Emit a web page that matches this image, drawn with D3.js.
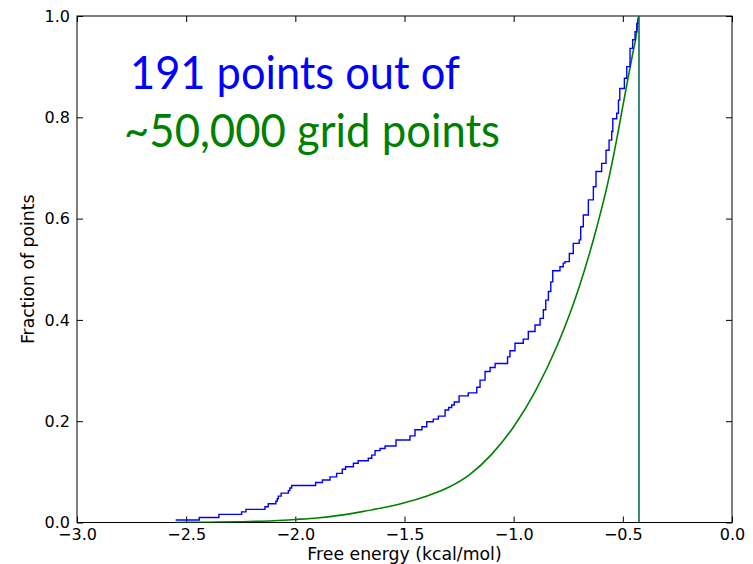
<!DOCTYPE html>
<html>
<head>
<meta charset="utf-8">
<script src="https://cdn.jsdelivr.net/npm/d3@7"></script>
<style>
    body { margin: 0; background: #fff; }
    text { font-family: "DejaVu Sans", sans-serif; }
</style>
</head>
<body>
<div id="chart"></div>
<script>
// blue: step positions of the 191 sampled points (free energy, fraction)
var sampleX = [-2.548, -2.440, -2.350, -2.246, -2.226, -2.139, -2.124, -2.089, -2.083, -2.078,
    -2.065, -2.032, -2.025, -2.017, -1.907, -1.876, -1.841, -1.811, -1.785, -1.770,
    -1.734, -1.712, -1.666, -1.650, -1.635, -1.612, -1.589, -1.539, -1.475, -1.452,
    -1.420, -1.398, -1.368, -1.345, -1.314, -1.298, -1.284, -1.272, -1.250, -1.208,
    -1.169, -1.154, -1.131, -1.108, -1.085, -1.028, -1.017, -0.994, -0.956, -0.933,
    -0.902, -0.879, -0.864, -0.853, -0.841, -0.830, -0.821, -0.788, -0.773, -0.765,
    -0.745, -0.727, -0.700, -0.693, -0.681, -0.658, -0.635, -0.623, -0.597, -0.577,
    -0.563, -0.551, -0.546, -0.528, -0.520, -0.514, -0.493, -0.482, -0.467, -0.455,
    -0.444, -0.436, -0.430];
var sampleY = [0.005, 0.010, 0.016, 0.021, 0.026, 0.031, 0.037, 0.042, 0.047, 0.052,
    0.058, 0.063, 0.068, 0.073, 0.079, 0.084, 0.090, 0.097, 0.105, 0.110,
    0.117, 0.122, 0.127, 0.133, 0.142, 0.146, 0.151, 0.163, 0.171, 0.183,
    0.189, 0.199, 0.204, 0.210, 0.222, 0.227, 0.232, 0.238, 0.250, 0.256,
    0.267, 0.281, 0.298, 0.306, 0.314, 0.327, 0.339, 0.354, 0.362, 0.377,
    0.390, 0.403, 0.420, 0.439, 0.456, 0.475, 0.497, 0.505, 0.512, 0.515,
    0.531, 0.551, 0.558, 0.584, 0.607, 0.637, 0.663, 0.693, 0.709, 0.735,
    0.755, 0.772, 0.797, 0.808, 0.834, 0.857, 0.877, 0.900, 0.936, 0.953,
    0.969, 0.986, 0.995];

// green: all ~50,000 grid points
var gridX = [-2.55, -2.40, -2.25, -2.10, -2.00, -1.90, -1.80, -1.70, -1.60, -1.50,
    -1.40, -1.30, -1.20, -1.10, -1.00, -0.90, -0.80, -0.70, -0.62, -0.57,
    -0.53, -0.50, -0.475, -0.455, -0.44, -0.428];
var gridY = [0.000, 0.0005, 0.0015, 0.0035, 0.006, 0.009, 0.014, 0.021, 0.029, 0.039,
    0.052, 0.069, 0.095, 0.135, 0.189, 0.260, 0.350, 0.465, 0.582, 0.668,
    0.752, 0.822, 0.880, 0.925, 0.958, 1.000];

var cutoff = -0.426; // vertical line

var xTicks = [-3.0, -2.5, -2.0, -1.5, -1.0, -0.5, 0.0];
var yTicks = [0.0, 0.2, 0.4, 0.6, 0.8, 1.0];

var titleLines = ["191 points out of", "~50,000 grid points"];


function CdfChart(id){
    var self = this;
    self.sectionId = id;
    self.initVis();
}

CdfChart.prototype.initVis = function(){
    var self = this;

    self.margin = { top: 16, right: 21, bottom: 41.5, left: 77 };
    self.svgWidth = 753;
    self.svgHeight = 564;
    self.width = self.svgWidth - self.margin.left - self.margin.right;
    self.height = self.svgHeight - self.margin.top - self.margin.bottom;

    self.svg = d3.select(`#${self.sectionId}`)
        .append("svg")
        .attr("width", self.svgWidth)
        .attr("height", self.svgHeight);

    self.g = self.svg.append("g")
        .attr("transform", `translate(${self.margin.left},${self.margin.top})`);

    self.x = d3.scaleLinear().domain([-3, 0]).range([0, self.width]);
    self.y = d3.scaleLinear().domain([0, 1]).range([self.height, 0]);

    var minus = function(d){ return d3.format(".1f")(d).replace("-", "\u2212"); };

    // bottom + top ticks (inside)
    self.g.append("g")
        .attr("class", "axis")
        .attr("transform", `translate(0,${self.height})`)
        .call(d3.axisBottom(self.x).tickValues(xTicks).tickSize(-6).tickPadding(6).tickFormat(minus));
    self.g.append("g")
        .attr("class", "axis")
        .call(d3.axisTop(self.x).tickValues(xTicks).tickSize(-6).tickFormat(""));

    // left + right ticks (inside)
    self.g.append("g")
        .attr("class", "axis")
        .call(d3.axisLeft(self.y).tickValues(yTicks).tickSize(-6).tickPadding(7).tickFormat(d3.format(".1f")));
    self.g.append("g")
        .attr("class", "axis")
        .attr("transform", `translate(${self.width},0)`)
        .call(d3.axisRight(self.y).tickValues(yTicks).tickSize(-6).tickFormat(""));

    self.g.selectAll(".axis .domain").remove();
    self.g.selectAll(".axis line").attr("stroke", "#000");
    self.g.selectAll(".axis text")
        .attr("fill", "#000")
        .style("font-family", "DejaVu Sans")
        .style("font-size", "16px");

    // frame
    self.g.append("rect")
        .attr("width", self.width)
        .attr("height", self.height)
        .attr("fill", "none")
        .attr("stroke", "#000")
        .attr("stroke-width", 1);

    self.svg.append("clipPath").attr("id", "plotClip")
        .append("rect").attr("width", self.width).attr("height", self.height);

    var lines = self.g.append("g").attr("clip-path", "url(#plotClip)");

    var gridData = gridX.map(function(d, i){ return [d, gridY[i]]; });
    var sampleData = sampleX.map(function(d, i){ return [d, sampleY[i]]; });

    lines.append("path")
        .datum(gridData)
        .attr("fill", "none")
        .attr("stroke", "#008000")
        .attr("stroke-width", 1.6)
        .attr("d", d3.line()
            .curve(d3.curveMonotoneX)
            .x(function(d){ return self.x(d[0]); })
            .y(function(d){ return self.y(d[1]); }));

    lines.append("path")
        .datum(sampleData)
        .attr("fill", "none")
        .attr("stroke", "#0000ff")
        .attr("stroke-width", 1.4)
        .attr("d", d3.line()
            .curve(d3.curveStepAfter)
            .x(function(d){ return self.x(d[0]); })
            .y(function(d){ return self.y(d[1]); }));

    lines.append("line")
        .attr("x1", self.x(cutoff)).attr("x2", self.x(cutoff))
        .attr("y1", self.y(0)).attr("y2", self.y(1))
        .attr("stroke", "#0f6a5a")
        .attr("stroke-width", 1.6);

    // axis labels
    self.svg.append("text")
        .attr("x", self.margin.left + self.width / 2)
        .attr("y", 560)
        .attr("text-anchor", "middle")
        .style("font-size", "17.3px")
        .text("Free energy (kcal/mol)");

    self.svg.append("text")
        .attr("transform", `translate(34,${self.margin.top + self.height / 2}) rotate(-90)`)
        .attr("text-anchor", "middle")
        .style("font-size", "17.3px")
        .text("Fraction of points");

    // big annotation
    self.svg.selectAll(".note")
        .data(titleLines)
        .join("text")
        .attr("class", "note")
        .attr("x", function(d, i){ return i === 0 ? 130 : 124; })
        .attr("y", function(d, i){ return i === 0 ? 89 : 147; })
        .attr("fill", function(d, i){ return i === 0 ? "#0000ff" : "#008000"; })
        .attr("textLength", function(d, i){ return i === 0 ? 330 : 376; })
        .attr("lengthAdjust", "spacingAndGlyphs")
        .style("font-family", "Lato")
        .style("font-size", "46px")
        .text(function(d){ return d; });
}

new CdfChart("chart");
</script>
</body>
</html>
